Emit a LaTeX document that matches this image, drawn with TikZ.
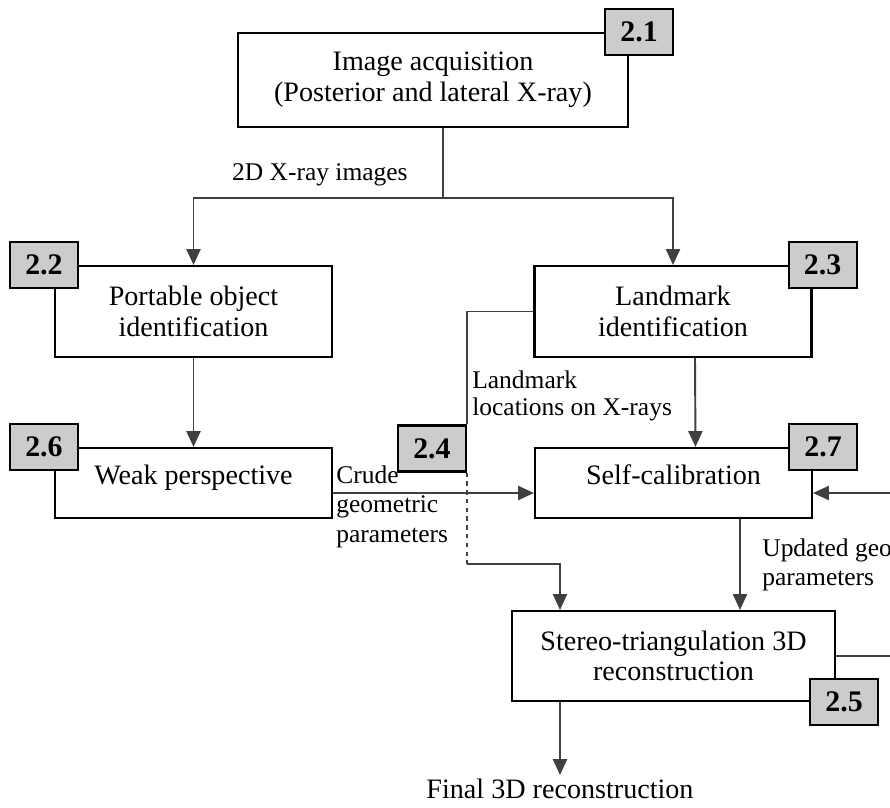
\documentclass[tikz,border=0pt]{standalone}
\usepackage{fontspec}
\setmainfont{Liberation Serif}
\usepackage{tikz}
\usetikzlibrary{arrows.meta,positioning}

\begin{document}
\begin{tikzpicture}[
  every node/.style={font=\fontsize{16}{17.5}\selectfont},
  stage/.style={draw, line width=1.2pt, fill=white, align=center, minimum width=5.54cm},
  tag/.style={draw, line width=1.2pt, fill=gray!40, minimum width=1.36cm, minimum height=0.92cm,
    inner sep=0pt, font=\fontsize{17}{18}\selectfont\bfseries},
  lbl/.style={font=\fontsize{14.5}{16.5}\selectfont, align=left, inner sep=0pt},
  flow/.style={line width=1.1pt, draw=black!75},
  >={Triangle[length=9pt,width=8pt]}
]
  \useasboundingbox (0,0) rectangle (17.8,-16.16);
  \clip (0,0) rectangle (17.8,-16.16);

  % processing stages
  \node[stage, minimum width=7.8cm, minimum height=1.88cm] (acq) at (8.66,-1.60) {Image acquisition\\(Posterior and lateral X-ray)};
  \node[stage, minimum height=1.82cm] (port) at (3.87,-6.23) {Portable object\\identification};
  \node[stage, minimum height=1.82cm] (land) at (13.46,-6.23) {Landmark\\identification};
  \node[stage, minimum height=1.40cm, text depth=0.35cm] (weak) at (3.87,-9.66) {Weak perspective};
  \node[stage, minimum height=1.40cm, text depth=0.35cm] (calib) at (13.47,-9.66) {Self-calibration};
  \node[stage, minimum width=6.46cm, minimum height=1.80cm] (stereo) at (13.47,-13.12) {Stereo-triangulation 3D\\reconstruction};
  \node[anchor=north, inner sep=2pt] (final) at (11.2,-15.5) {Final 3D reconstruction};

  % section numbers
  \node[tag] (t21) at ([xshift=0.2cm]acq.north east) {2.1};
  \node[tag] (t22) at ([xshift=-0.2cm]port.north west) {2.2};
  \node[tag] (t23) at ([xshift=0.2cm]land.north east) {2.3};
  \node[tag, anchor=east] (t24) at (9.34,-8.97) {2.4};
  \node[tag] (t25) at ([xshift=0.16cm]stereo.south east) {2.5};
  \node[tag] (t26) at ([xshift=-0.2cm]weak.north west) {2.6};
  \node[tag] (t27) at ([xshift=0.2cm]calib.north east) {2.7};

  % image split
  \draw[flow] ([xshift=0.2cm]acq.south) -- ++(0,-1.4) coordinate (split);
  \draw[flow,->] (split) -| (port.north);
  \draw[flow,->] (split) -| (land.north);
  \node[lbl, anchor=south east] (xray) at ([xshift=-0.7cm,yshift=0.23cm]split) {2D X-ray images};

  \draw[flow,->] (port) -- (weak);
  \draw[flow,->] ([xshift=0.44cm]land.south) -- ([xshift=0.44cm]calib.north);

  % landmark locations, passed on to the triangulation
  \draw[flow] (land.west) -| (t24.north east);
  \draw[flow, dash pattern=on 2.5pt off 2.5pt] (t24.south east) -- ++(0,-1.82) coordinate (drop);
  \draw[flow,->] (drop) -| ([xshift=-2.27cm]stereo.north);
  \node[lbl, anchor=west, font=\fontsize{14.5}{15.5}\selectfont] (lmk) at (9.44,-7.92) {Landmark\\locations on X-rays};

  \draw[flow,->] ([yshift=-0.2cm]weak.east) -- ([yshift=-0.2cm]calib.west);
  \node[lbl, anchor=base west, font=\fontsize{14.5}{17}\selectfont] (crude) at (6.72,-9.66)
    {\begin{tabular}[t]{@{}l@{}}Crude\\geometric\\parameters\end{tabular}};

  \draw[flow,->] ([xshift=1.33cm]calib.south) -- ([xshift=1.33cm]stereo.north);
  \node[lbl, anchor=west] (upd) at (15.24,-11.29) {Updated geo\\parameters};

  % loop back from the reconstruction
  \draw[flow,->] (stereo.east) -- ++(1.5,0) |- ([yshift=-0.2cm]calib.east);

  \draw[flow,->] ([xshift=-2.27cm]stereo.south) -- (final.north);
\end{tikzpicture}
\end{document}
